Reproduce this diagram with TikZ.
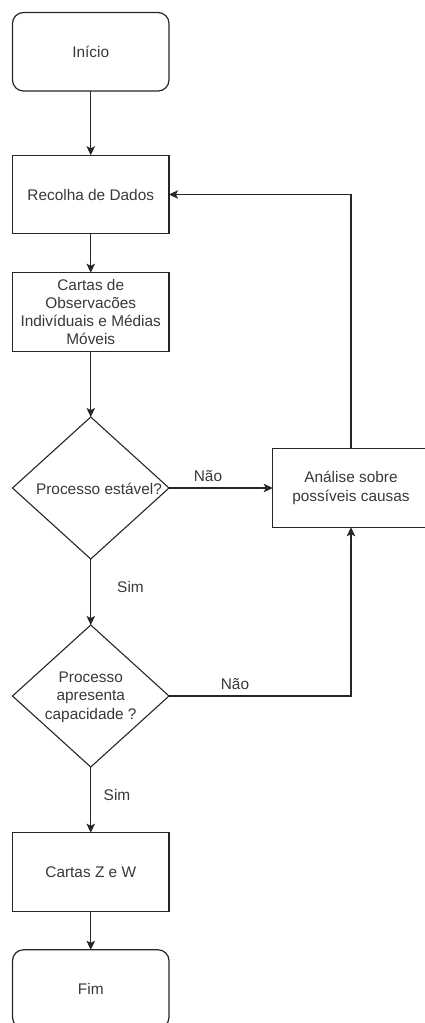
\documentclass[tikz,border=0pt]{standalone}
\usepackage{fontspec}
\setmainfont{Liberation Sans}
\usetikzlibrary{arrows.meta,shapes.geometric}
\begin{document}
\begin{tikzpicture}[x=1pt,y=-1pt,
  every node/.style={font=\fontsize{15.4}{18.3}\selectfont, text=black!78},
  box/.style={draw=black!85, line width=1.2pt, minimum width=156.5pt, minimum height=78.5pt, inner sep=0pt, outer sep=0pt, align=center},
  term/.style={box, rounded corners=11pt},
  dec/.style={draw=black!85, line width=1.1pt, diamond, minimum width=156.5pt, minimum height=142pt, inner sep=0pt, outer sep=0pt},
  txt/.style={align=center, inner sep=0pt},
  conn/.style={draw=black!85, line width=1.2pt, -{Stealth[length=9pt,width=8.5pt,inset=2pt]}},
  plain/.style={draw=black!85, line width=1.2pt}
]
\useasboundingbox (0,0) rectangle (425,1023);
\node[term] (inicio) at (90.75,51.75) {Início};
\node[box] (recolha) at (90.75,194.5) {Recolha de Dados};
\node[box] (cartas) at (90.75,312) {Cartas de\\Observacões\\Indivíduais e Médias\\Móveis};
\node[dec] (d1) at (90.75,488) {};
\node[txt] (t1) at (99,489) {Processo estável?};
\node[box] (analise) at (351,488) {Análise sobre\\possíveis causas};
\node[dec] (d2) at (90.75,696) {};
\node[txt] (t2) at (90.75,697) {Processo\\apresenta\\capacidade ?};
\node[box] (zw) at (90.75,872) {Cartas Z e W};
\node[term] (fim) at (90.75,989) {Fim};

\draw[conn] (inicio.south) -- (recolha.north);
\draw[conn] (recolha.south) -- (cartas.north);
\draw[conn] (cartas.south) -- (d1.north);
\draw[conn] (d1.east) -- (analise.west);
\draw[conn] (analise.north) |- (recolha.east);
\draw[conn] (d1.south) -- (d2.north);
\draw[conn] (d2.east) -| (analise.south);
\draw[conn] (d2.south) -- (zw.north);
\draw[conn] (zw.south) -- (fim.north);

\node[txt] (nao1) at (208,476) {Não};
\node[txt] (sim1) at (130.5,587) {Sim};
\node[txt] (nao2) at (235,684) {Não};
\node[txt] (sim2) at (117,795) {Sim};
\end{tikzpicture}
\end{document}
